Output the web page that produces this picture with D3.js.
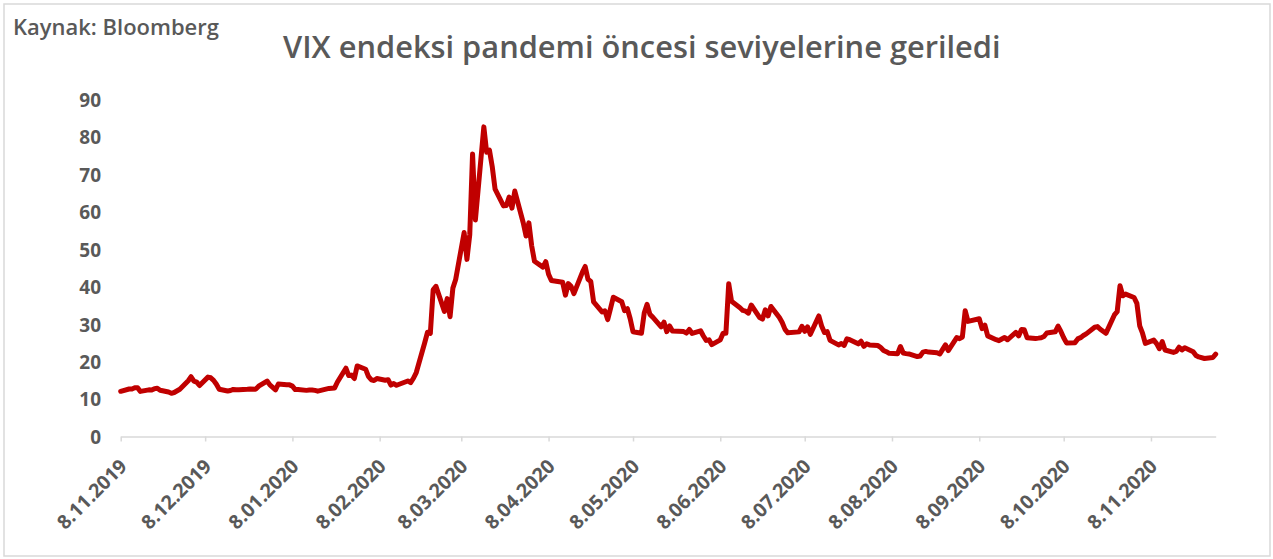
<!DOCTYPE html>
<html><head><meta charset="utf-8">
<script src="https://cdn.jsdelivr.net/npm/d3@7"></script>
<style>
body{margin:0;background:#fff;}
svg{display:block;}
text{font-family:"Open Sans",sans-serif;}
</style>
</head><body>
<svg id="c" width="1273" height="559"></svg>
<script>
const sourceText = "Kaynak: Bloomberg";
const titleText = "VIX endeksi pandemi öncesi seviyelerine geriledi";

const dates = [
"2019-11-08","2019-11-11","2019-11-12","2019-11-13","2019-11-14","2019-11-15","2019-11-18","2019-11-19","2019-11-20","2019-11-21","2019-11-22","2019-11-25","2019-11-26","2019-11-27","2019-11-29",
"2019-12-02","2019-12-03","2019-12-04","2019-12-05","2019-12-06","2019-12-09","2019-12-10","2019-12-11","2019-12-12","2019-12-13","2019-12-16","2019-12-17","2019-12-18","2019-12-19","2019-12-20","2019-12-23","2019-12-24","2019-12-26","2019-12-27","2019-12-30","2019-12-31",
"2020-01-02","2020-01-03","2020-01-06","2020-01-07","2020-01-08","2020-01-09","2020-01-10","2020-01-13","2020-01-14","2020-01-15","2020-01-16","2020-01-17","2020-01-21","2020-01-22","2020-01-23","2020-01-24","2020-01-27","2020-01-28","2020-01-29","2020-01-30","2020-01-31",
"2020-02-03","2020-02-04","2020-02-05","2020-02-06","2020-02-07","2020-02-10","2020-02-11","2020-02-12","2020-02-13","2020-02-14","2020-02-18","2020-02-19","2020-02-20","2020-02-21","2020-02-24","2020-02-25","2020-02-26","2020-02-27","2020-02-28",
"2020-03-02","2020-03-03","2020-03-04","2020-03-05","2020-03-06","2020-03-09","2020-03-10","2020-03-11","2020-03-12","2020-03-13","2020-03-16","2020-03-17","2020-03-18","2020-03-19","2020-03-20","2020-03-23","2020-03-24","2020-03-25","2020-03-26","2020-03-27","2020-03-30","2020-03-31",
"2020-04-01","2020-04-02","2020-04-03","2020-04-06","2020-04-07","2020-04-08","2020-04-09","2020-04-13","2020-04-14","2020-04-15","2020-04-16","2020-04-17","2020-04-20","2020-04-21","2020-04-22","2020-04-23","2020-04-24","2020-04-27","2020-04-28","2020-04-29","2020-04-30",
"2020-05-01","2020-05-04","2020-05-05","2020-05-06","2020-05-07","2020-05-08","2020-05-11","2020-05-12","2020-05-13","2020-05-14","2020-05-15","2020-05-18","2020-05-19","2020-05-20","2020-05-21","2020-05-22","2020-05-26","2020-05-27","2020-05-28","2020-05-29",
"2020-06-01","2020-06-02","2020-06-03","2020-06-04","2020-06-05","2020-06-08","2020-06-09","2020-06-10","2020-06-11","2020-06-12","2020-06-15","2020-06-16","2020-06-17","2020-06-18","2020-06-19","2020-06-22","2020-06-23","2020-06-24","2020-06-25","2020-06-26","2020-06-29","2020-06-30",
"2020-07-01","2020-07-02","2020-07-06","2020-07-07","2020-07-08","2020-07-09","2020-07-10","2020-07-13","2020-07-14","2020-07-15","2020-07-16","2020-07-17","2020-07-20","2020-07-21","2020-07-22","2020-07-23","2020-07-24","2020-07-27","2020-07-28","2020-07-29","2020-07-30","2020-07-31",
"2020-08-03","2020-08-04","2020-08-05","2020-08-06","2020-08-07","2020-08-10","2020-08-11","2020-08-12","2020-08-13","2020-08-14","2020-08-17","2020-08-18","2020-08-19","2020-08-20","2020-08-21","2020-08-24","2020-08-25","2020-08-26","2020-08-27","2020-08-28","2020-08-31",
"2020-09-01","2020-09-02","2020-09-03","2020-09-04","2020-09-08","2020-09-09","2020-09-10","2020-09-11","2020-09-14","2020-09-15","2020-09-16","2020-09-17","2020-09-18","2020-09-21","2020-09-22","2020-09-23","2020-09-24","2020-09-25","2020-09-28","2020-09-29","2020-09-30",
"2020-10-01","2020-10-02","2020-10-05","2020-10-06","2020-10-07","2020-10-08","2020-10-09","2020-10-12","2020-10-13","2020-10-14","2020-10-15","2020-10-16","2020-10-19","2020-10-20","2020-10-21","2020-10-22","2020-10-23","2020-10-26","2020-10-27","2020-10-28","2020-10-29","2020-10-30",
"2020-11-02","2020-11-03","2020-11-04","2020-11-05","2020-11-06","2020-11-09","2020-11-10","2020-11-11","2020-11-12","2020-11-13","2020-11-16","2020-11-17","2020-11-18","2020-11-19","2020-11-20","2020-11-23","2020-11-24","2020-11-25","2020-11-27","2020-11-30","2020-12-01"
];

const vix = [
12.07,12.69,12.68,13.00,13.05,12.05,12.46,12.41,12.78,12.88,12.34,11.87,11.54,11.75,12.62,
14.91,15.96,14.80,14.52,13.62,15.86,15.68,14.99,13.94,12.63,12.14,12.29,12.58,12.50,12.51,12.61,12.67,12.65,13.43,14.82,13.78,
12.47,14.02,13.85,13.79,13.45,12.54,12.56,12.32,12.39,12.42,12.32,12.10,12.85,12.91,12.98,14.56,18.23,16.28,16.39,15.49,18.84,
17.97,16.05,15.15,14.96,15.47,15.04,15.18,13.74,14.15,13.68,14.83,14.38,15.56,17.08,25.03,27.85,27.56,39.16,40.11,
33.42,36.82,31.99,39.62,41.94,54.46,47.30,53.90,75.47,57.83,82.69,75.91,76.45,72.00,66.04,61.59,61.67,63.95,61.00,65.54,57.08,53.54,
57.06,50.91,46.80,45.24,46.70,43.35,41.67,41.17,37.76,40.84,40.11,38.15,43.83,45.41,41.98,41.38,35.93,33.29,33.57,31.23,34.15,
37.19,35.97,33.61,34.12,31.44,27.98,27.57,33.04,35.28,32.61,31.89,29.30,30.53,27.99,29.53,28.16,28.01,27.62,28.59,27.51,
28.23,26.84,25.66,25.81,24.52,25.81,27.57,27.57,40.79,36.09,34.40,33.67,33.47,32.94,35.12,31.77,31.37,33.84,32.22,34.73,31.78,30.43,
28.62,27.68,27.94,29.43,28.08,29.26,27.29,32.19,29.52,27.76,28.00,25.68,24.46,24.84,24.32,26.08,25.84,24.74,25.44,24.10,24.76,24.46,
24.28,23.76,22.99,22.65,22.21,22.13,24.03,22.28,22.13,22.05,21.35,21.51,22.54,22.72,22.54,22.37,22.03,23.27,24.47,22.96,26.41,
26.12,26.57,33.60,30.75,31.46,28.81,29.71,26.87,25.85,25.59,26.04,26.46,25.83,27.78,26.86,28.58,28.51,26.38,26.19,26.27,26.37,
26.70,27.63,27.96,29.48,28.06,26.36,25.00,25.07,26.07,26.40,26.97,27.41,29.18,29.35,28.65,28.11,27.55,32.46,33.35,40.28,37.59,38.02,
37.13,35.55,29.57,27.58,24.86,25.75,24.80,23.45,25.35,23.10,22.45,22.71,23.84,23.11,23.70,22.66,21.64,21.25,20.84,21.10,22.00
];

const xTickLabels = ["8.11.2019","8.12.2019","8.01.2020","8.02.2020","8.03.2020","8.04.2020","8.05.2020","8.06.2020","8.07.2020","8.08.2020","8.09.2020","8.10.2020","8.11.2020"];
const yTicks = [0,10,20,30,40,50,60,70,80,90];
const xDomainLabels = ["8.11.2019","1.12.2020"];

const parseIso = d3.timeParse("%Y-%m-%d");
const parseTr = d3.timeParse("%-d.%m.%Y");

const svg = d3.select("#c");
const gray = "#595959";

svg.append("rect").attr("x",4).attr("y",4).attr("width",1266).attr("height",552)
  .attr("fill","#fff").attr("stroke","#d9d9d9").attr("stroke-width",1.5);

const x = d3.scaleTime().domain(xDomainLabels.map(parseTr)).range([120.7, 1215.7]);
const y = d3.scaleLinear().domain([0, 90]).range([436.5, 99.5]);

function fit(sel, target){
  const w = sel.node().getComputedTextLength();
  const fs = parseFloat(sel.attr("font-size"));
  sel.attr("font-size", fs * target / w);
}

const src = svg.append("text").attr("x",13).attr("y",35).attr("font-size",20)
  .attr("font-weight",600).attr("fill",gray).text(sourceText);
fit(src, 206);

const title = svg.append("text").attr("x",283).attr("y",58).attr("font-size",28)
  .attr("font-weight",600).attr("fill",gray).text(titleText);
fit(title, 718);

// y axis
const yAxis = svg.append("g").attr("transform","translate(101,0)")
  .call(d3.axisLeft(y).tickValues(yTicks).tickSize(0).tickPadding(0).tickFormat(d3.format("d")));
yAxis.select(".domain").remove();
yAxis.selectAll("text").attr("font-size",19).attr("font-weight",700).attr("fill",gray)
  .attr("font-family","'Open Sans',sans-serif").attr("dy","0.36em");

// x axis
const xAxis = svg.append("g").attr("transform","translate(0,436.5)")
  .call(d3.axisBottom(x).tickValues(xTickLabels.map(parseTr)).tickSize(5).tickSizeOuter(0)
    .tickFormat((d,i)=>xTickLabels[i]));
xAxis.select(".domain").attr("stroke","#d9d9d9").attr("stroke-width",1.5);
xAxis.selectAll(".tick line").attr("stroke","#d9d9d9").attr("stroke-width",1.5);
xAxis.selectAll("text").attr("font-size",19.5).attr("font-weight",700).attr("fill",gray)
  .attr("font-family","'Open Sans',sans-serif")
  .attr("text-anchor","end").attr("y",null).attr("dy",null)
  .attr("transform","translate(7,31) rotate(-45)");

// line
const line = d3.line().x((d,i)=>x(parseIso(dates[i]))).y(d=>y(d)).curve(d3.curveLinear);
svg.append("path").datum(vix).attr("d",line).attr("fill","none")
  .attr("stroke","#c00000").attr("stroke-width",5).attr("stroke-linejoin","round").attr("stroke-linecap","round");
</script>
</body></html>
